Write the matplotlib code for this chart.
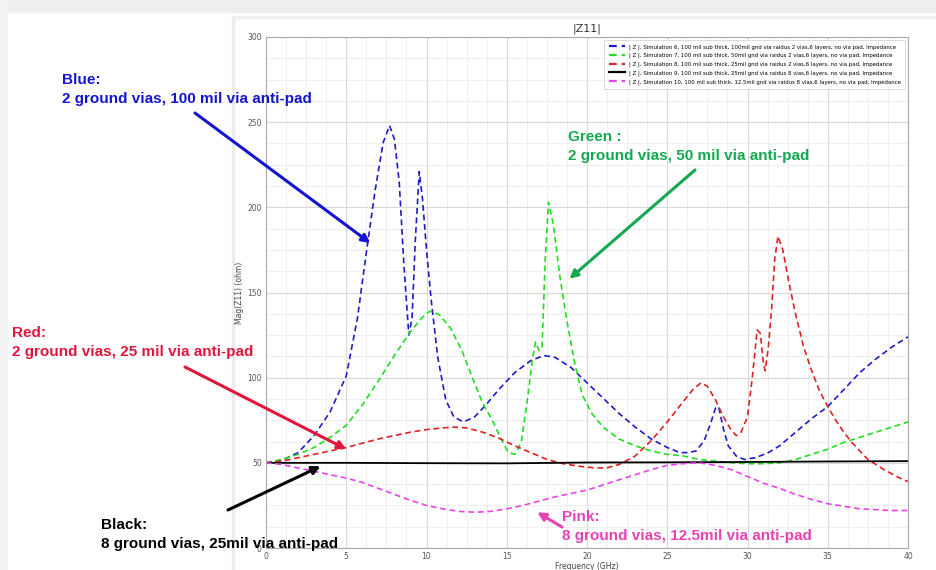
import matplotlib
matplotlib.use("Agg")
import matplotlib.pyplot as plt
from matplotlib.patches import Rectangle
from matplotlib.ticker import MultipleLocator

# frequency (GHz) / |Z11| (ohm)
blue_f = [0, 1, 2, 3, 4, 5, 5.7, 6.2, 6.8, 7.3, 7.7, 8.0, 8.3, 8.6, 8.9, 9.1, 9.3, 9.55,
          9.75, 10.0, 10.3, 10.7, 11.2, 11.7, 12.3, 13, 13.7, 14.5, 15.5, 16.5, 17.3, 18,
          19, 20, 21, 22, 23, 24, 25, 25.8, 26.3, 26.8, 27.3, 27.7, 28.0, 28.2, 28.5, 28.8,
          29.3, 29.8, 30.5, 31.3, 32, 33, 34, 35, 36, 37, 38, 39, 40]
blue_z = [50, 51.5, 56, 66, 80, 101, 135, 170, 210, 238, 248, 240, 215, 165, 125, 135, 180, 221,
          205, 175, 145, 112, 87, 77, 74, 77, 84, 93, 103, 110, 113, 112,
          106, 97, 88, 79, 71, 64, 59, 56, 56, 57, 63, 73, 82, 83, 70, 60,
          54, 52, 53, 56, 60, 68, 76, 83, 93, 103, 111, 118, 124]

green_f = [0, 1, 2, 3, 4, 5, 6, 7, 8, 9, 9.7, 10.2, 10.8, 11.5, 12.2, 12.9, 13.5, 14.1, 14.6,
           15.1, 15.5, 15.9, 16.3, 16.6, 16.8, 17.0, 17.2, 17.4, 17.6, 17.9, 18.3, 18.7, 19.2,
           19.7, 20.3, 21, 22, 23, 24, 25, 26, 27, 28, 29, 30, 31, 32, 33, 34, 35, 36, 37,
           38, 39, 40]
green_z = [50, 52, 55, 59, 65, 72, 84, 98, 113, 127, 135, 139, 137, 129, 116, 99, 85, 75, 65,
           56, 55, 62, 88, 111, 121, 116, 118, 170, 203, 190, 160, 136, 110,
           90, 79, 71, 64, 60, 57, 55, 54, 52, 51, 50, 49.5, 49.5, 50, 52, 55, 58, 62, 65,
           68, 71, 74]

red_f = [0, 1, 2, 3, 4, 5, 6, 7, 8, 9, 10, 11, 11.7, 12.5, 13.5, 14.5, 15.5, 16.5, 17.5,
         18.5, 19.5, 20.5, 21.2, 22, 23, 24, 25, 26, 26.6, 27.1, 27.5, 28, 28.5, 29, 29.3,
         29.6, 30, 30.3, 30.6, 30.8, 31.0, 31.1, 31.3, 31.5, 31.7, 31.9, 32.2, 32.6, 33,
         33.5, 34, 34.5, 35, 35.5, 36, 36.5, 37, 37.5, 38, 38.5, 39, 39.5, 40]
red_z = [50, 51, 53, 55, 57, 59, 61.5, 64, 66, 68, 69.5, 70.5, 71, 70.5, 68, 64.5, 60, 56, 52,
         49.5, 48, 47, 47, 49, 54, 63, 74, 86, 93, 97, 95, 87, 77, 69, 66,
         68, 77, 100, 128, 126, 108, 104, 118, 140, 170, 183, 175, 155, 137,
         118, 104, 92, 83, 75, 68, 62, 57, 52, 49, 46, 43.5, 41, 39]

black_f = [0, 5, 10, 15, 20, 25, 30, 35, 40]
black_z = [50, 50, 49.8, 49.7, 50.2, 50.3, 50.5, 50.8, 51]

pink_f = [0, 1, 2, 3, 4, 5, 6, 7, 8, 9, 10, 11, 12, 13, 14, 15, 16, 17, 18, 19, 20,
          21, 22, 23, 24, 25, 26, 27, 28, 29, 30, 31, 32, 33, 34, 35, 36, 37, 38, 39, 40]
pink_z = [50, 49, 47, 45, 43, 41, 38.5, 35, 31.5, 28, 25, 23, 21.5, 21, 21.5, 23, 25, 27.5, 30,
          32, 34, 37, 40, 43, 46, 48.5, 49.5, 50, 48.5, 46, 42, 38, 35, 31.5, 28.5, 26,
          24.5, 23, 22.5, 22, 22]

legend_labels = [
    "| Z |, Simulation 6, 100 mil sub thick, 100mil gnd via raidus 2 vias,6 layers, no via pad, Impedance",
    "| Z |, Simulation 7, 100 mil sub thick, 50mil gnd via raidus 2 vias,6 layers, no via pad, Impedance",
    "| Z |, Simulation 8, 100 mil sub thick, 25mil gnd via raidus 2 vias,6 layers, no via pad, Impedance",
    "| Z |, Simulation 9, 100 mil sub thick, 25mil gnd via raidus 8 vias,6 layers, no via pad, Impedance",
    "| Z |, Simulation 10, 100 mil sub thick, 12.5mil gnd via raidus 8 vias,6 layers, no via pad, Impedance",
]

W, H = 936, 570
fig = plt.figure(figsize=(W / 100, H / 100), dpi=100)
fig.patch.set_facecolor("white")

# slide background: grey strip on top/left, faint panel edge (kept behind everything)
bg = [((0, 1 - 12 / H), 1, 12 / H, "#eeeeee"),
      ((0, 0), 7 / W, 1, "#f2f2f2"),
      ((232 / W, 0), 2 / W, 1 - 16 / H, "#ececec"),
      ((232 / W, 1 - 18 / H), 1, 2 / H, "#f0f0f0")]
for xy, w, h, c in bg:
    fig.patches.append(Rectangle(xy, w, h, transform=fig.transFigure, color=c, zorder=-10))

ax = fig.add_axes([266 / W, 22 / H, 642 / W, 511 / H])
dash = (0, (3.5, 2.2))
ax.plot(blue_f, blue_z, color="#1c1cc8", lw=1.2, ls=dash, label=legend_labels[0])
ax.plot(green_f, green_z, color="#22dd22", lw=1.2, ls=dash, label=legend_labels[1])
ax.plot(red_f, red_z, color="#dd2222", lw=1.2, ls=dash, label=legend_labels[2])
ax.plot(black_f, black_z, color="black", lw=1.3, label=legend_labels[3])
ax.plot(pink_f, pink_z, color="#e845e8", lw=1.2, ls=dash, label=legend_labels[4])

ax.set_xlim(0, 40)
ax.set_ylim(0, 300)
ax.xaxis.set_major_locator(MultipleLocator(5))
ax.xaxis.set_minor_locator(MultipleLocator(1.25))
ax.yaxis.set_major_locator(MultipleLocator(50))
ax.yaxis.set_minor_locator(MultipleLocator(12.5))
ax.grid(True, which="major", color="#d8d8d8", lw=0.8)
ax.grid(True, which="minor", color="#ececec", lw=0.6)
ax.set_axisbelow(True)
ax.tick_params(which="both", length=0, labelsize=5.5, labelcolor="#555555", pad=3)
for s in ax.spines.values():
    s.set_color("#aaaaaa")
    s.set_linewidth(0.8)
ax.set_title("|Z11|", fontsize=8, color="#333333", pad=4)
ax.set_xlabel("Frequency (GHz)", fontsize=5.5, color="#444444", labelpad=0.5)
ax.set_ylabel("Mag(Z11) (ohm)", fontsize=5.5, color="#444444", labelpad=2)
leg = ax.legend(loc="upper right", fontsize=3.9, frameon=True, fancybox=False,
                edgecolor="#cccccc", handlelength=3, borderpad=0.8, labelspacing=0.6)
leg.get_frame().set_linewidth(0.6)
for ln in leg.get_lines():
    ln.set_linewidth(1.6)

# annotations: text baseline of the last line in figure pixels, arrow tips on the curves
notes = [
    ("Blue:\n2 ground vias, 100 mil via anti-pad", "#1414d2", (62, 103), (195, 113), (6.5, 179)),
    ("Red:\n2 ground vias, 25 mil via anti-pad", "#e0163c", (12, 356), (185, 367), (5.0, 58)),
    ("Black:\n8 ground vias, 25mil via anti-pad", "black", (101, 548), (228, 510), (3.4, 48)),
    ("Green :\n2 ground vias, 50 mil via anti-pad", "#14a850", (568, 160), (695, 170), (18.9, 158)),
    ("Pink:\n8 ground vias, 12.5mil via anti-pad", "#e843b4", (562, 540), (562, 527), (16.9, 21)),
]
for txt, col, (tx, ty), (ax0, ay0), tip in notes:
    fig.text(tx / W, 1 - ty / H, txt, color=col, fontsize=11, fontweight="bold",
             family="Liberation Sans", va="baseline", ha="left", linespacing=1.45, zorder=5)
    ax.annotate("", xy=tip, xycoords="data", xytext=(ax0 / W, 1 - ay0 / H),
                textcoords="figure fraction", annotation_clip=False,
                arrowprops=dict(arrowstyle="-|>", color=col, lw=2.2, mutation_scale=12,
                                shrinkA=0, shrinkB=0), zorder=6)

fig.savefig("out.png", dpi=100)
